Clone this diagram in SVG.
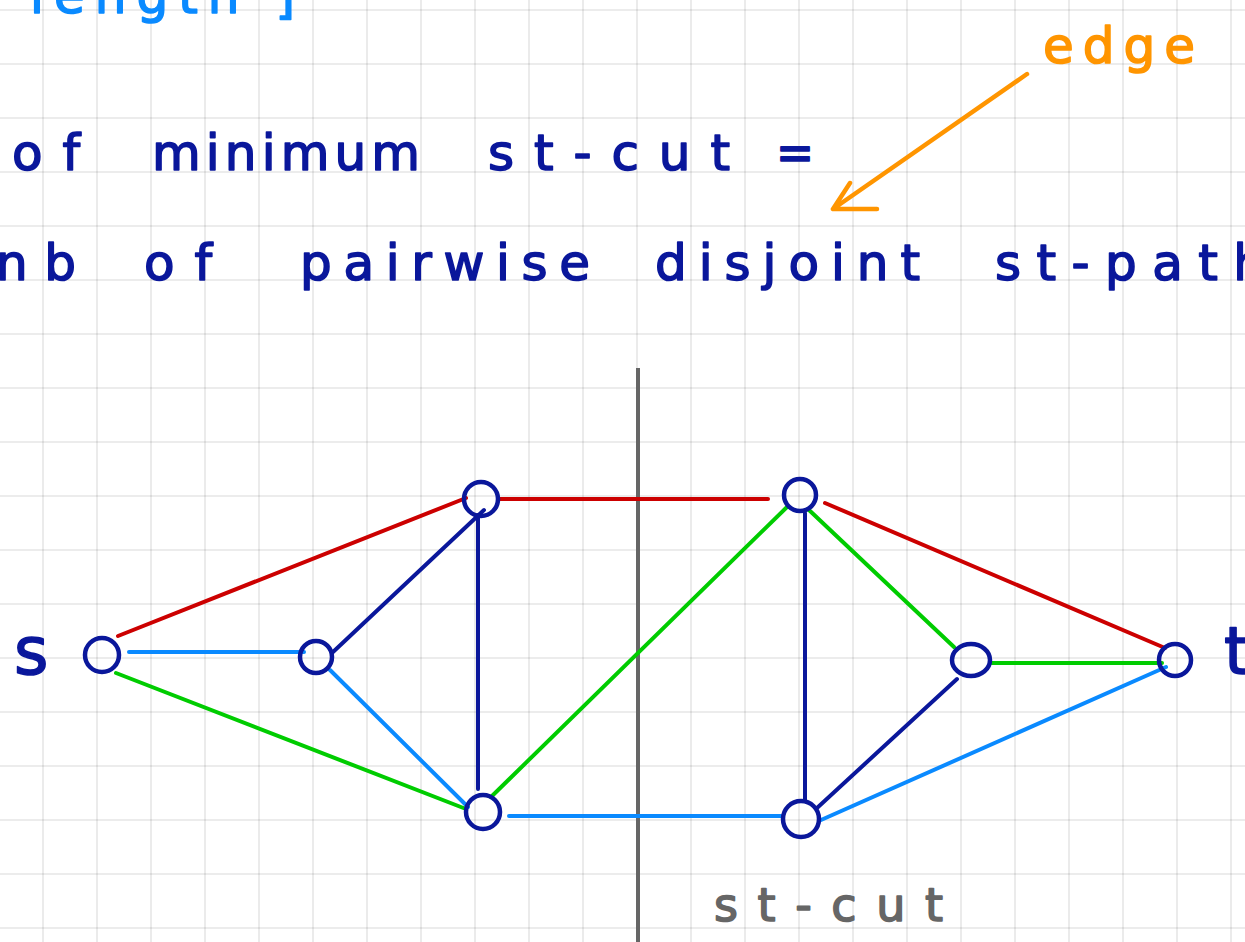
<svg xmlns="http://www.w3.org/2000/svg" width="1245" height="942" viewBox="0 0 1245 942">
<style>
.grid line{stroke:#000;stroke-opacity:0.1;stroke-width:1.6}
.node{fill:none;stroke:#0a179b;stroke-width:4.5}
.e{stroke-width:4;stroke-linecap:round;fill:none}
.red{stroke:#cc0000}.blue{stroke:#0a8aff}.green{stroke:#00cc00}.navy{stroke:#0a179b}
.hand{font-family:"DejaVu Sans",sans-serif;fill:#0a179b;stroke:#0a179b;stroke-width:1.6;stroke-linejoin:round}
.lb{fill:#0a8aff;stroke:#0a8aff}
.or{fill:#ff9500;stroke:#ff9500}
.gr{fill:#666;stroke:#666}
</style>
<rect width="1245" height="942" fill="#fff"/>
<g class="grid" id="grid">
<line x1="43" y1="0" x2="43" y2="942"/><line x1="97" y1="0" x2="97" y2="942"/><line x1="151" y1="0" x2="151" y2="942"/><line x1="205" y1="0" x2="205" y2="942"/><line x1="259" y1="0" x2="259" y2="942"/><line x1="313" y1="0" x2="313" y2="942"/><line x1="367" y1="0" x2="367" y2="942"/><line x1="421" y1="0" x2="421" y2="942"/><line x1="475" y1="0" x2="475" y2="942"/><line x1="529" y1="0" x2="529" y2="942"/><line x1="583" y1="0" x2="583" y2="942"/><line x1="637" y1="0" x2="637" y2="942"/><line x1="691" y1="0" x2="691" y2="942"/><line x1="745" y1="0" x2="745" y2="942"/><line x1="799" y1="0" x2="799" y2="942"/><line x1="853" y1="0" x2="853" y2="942"/><line x1="907" y1="0" x2="907" y2="942"/><line x1="961" y1="0" x2="961" y2="942"/><line x1="1015" y1="0" x2="1015" y2="942"/><line x1="1069" y1="0" x2="1069" y2="942"/><line x1="1123" y1="0" x2="1123" y2="942"/><line x1="1177" y1="0" x2="1177" y2="942"/><line x1="1231" y1="0" x2="1231" y2="942"/>
<line x1="0" y1="10" x2="1245" y2="10"/><line x1="0" y1="64" x2="1245" y2="64"/><line x1="0" y1="118" x2="1245" y2="118"/><line x1="0" y1="172" x2="1245" y2="172"/><line x1="0" y1="226" x2="1245" y2="226"/><line x1="0" y1="280" x2="1245" y2="280"/><line x1="0" y1="334" x2="1245" y2="334"/><line x1="0" y1="388" x2="1245" y2="388"/><line x1="0" y1="442" x2="1245" y2="442"/><line x1="0" y1="496" x2="1245" y2="496"/><line x1="0" y1="550" x2="1245" y2="550"/><line x1="0" y1="604" x2="1245" y2="604"/><line x1="0" y1="658" x2="1245" y2="658"/><line x1="0" y1="712" x2="1245" y2="712"/><line x1="0" y1="766" x2="1245" y2="766"/><line x1="0" y1="820" x2="1245" y2="820"/><line x1="0" y1="874" x2="1245" y2="874"/><line x1="0" y1="928" x2="1245" y2="928"/>
</g>
<g id="notes">
<text class="hand lb" x="30" y="13" font-size="50" textLength="265" lengthAdjust="spacing">length ]</text>
<text class="hand" font-size="50" y="170"><tspan x="12" textLength="68" lengthAdjust="spacing">of</tspan><tspan x="152" textLength="268" lengthAdjust="spacing">minimum</tspan><tspan x="488" textLength="242" lengthAdjust="spacing">st-cut</tspan><tspan x="776" textLength="38" lengthAdjust="spacingAndGlyphs">=</tspan></text>
<text class="hand" font-size="50" y="280"><tspan x="-4" textLength="80" lengthAdjust="spacing">nb</tspan><tspan x="144" textLength="68" lengthAdjust="spacing">of</tspan><tspan x="300" textLength="290" lengthAdjust="spacing">pairwise</tspan><tspan x="655" textLength="265" lengthAdjust="spacing">disjoint</tspan><tspan x="995" textLength="270" lengthAdjust="spacing">st-path</tspan></text>
<text class="hand or" x="1043" y="63" font-size="50" textLength="152" lengthAdjust="spacing">edge</text>
<path d="M1027,74 L833,209 M850,183 L833,209 L877,209" stroke="#ff9500" stroke-width="4.5" stroke-linecap="round" stroke-linejoin="round" fill="none"/>
</g>
<g id="cut">
<line x1="638" y1="368" x2="638" y2="942" stroke="#666" stroke-width="4"/>
<text class="hand gr" x="714" y="921" font-size="46" textLength="229" lengthAdjust="spacing">st-cut</text>
</g>
<g id="connectors">
<line class="e red" x1="118" y1="636" x2="466" y2="498"/>
<line class="e red" x1="500" y1="499" x2="768" y2="499"/>
<line class="e red" x1="825" y1="503" x2="1165" y2="648"/>
<line class="e blue" x1="129" y1="652" x2="304" y2="652"/>
<line class="e blue" x1="330" y1="670" x2="468" y2="807"/>
<line class="e blue" x1="509" y1="816" x2="781" y2="816"/>
<line class="e blue" x1="821" y1="820" x2="1166" y2="667"/>
<line class="e green" x1="116" y1="673" x2="466" y2="809"/>
<line class="e green" x1="491" y1="797" x2="787" y2="507"/>
<line class="e green" x1="809" y1="510" x2="954" y2="647"/>
<line class="e green" x1="992" y1="663" x2="1162" y2="663"/>
<line class="e navy" x1="333" y1="652" x2="484" y2="510"/>
<line class="e navy" x1="478" y1="515" x2="478" y2="789"/>
<line class="e navy" x1="805" y1="513" x2="805" y2="800"/>
<line class="e navy" x1="957" y1="679" x2="817" y2="808"/>
</g>
<g id="node-s"><circle class="node" cx="102" cy="655" r="17"/><text class="hand" x="14" y="674" font-size="66">s</text></g>
<g id="node-u"><circle class="node" cx="316" cy="657" r="16"/></g>
<g id="node-a"><circle class="node" cx="481" cy="499" r="17"/></g>
<g id="node-b"><circle class="node" cx="483" cy="812" r="17"/></g>
<g id="node-c"><circle class="node" cx="800" cy="495" r="16"/></g>
<g id="node-d"><circle class="node" cx="801" cy="819" r="18"/></g>
<g id="node-e"><ellipse class="node" cx="971" cy="660" rx="19" ry="16"/></g>
<g id="node-t"><circle class="node" cx="1175" cy="660" r="16"/><text class="hand" x="1224" y="674" font-size="66">t</text></g>
</svg>
